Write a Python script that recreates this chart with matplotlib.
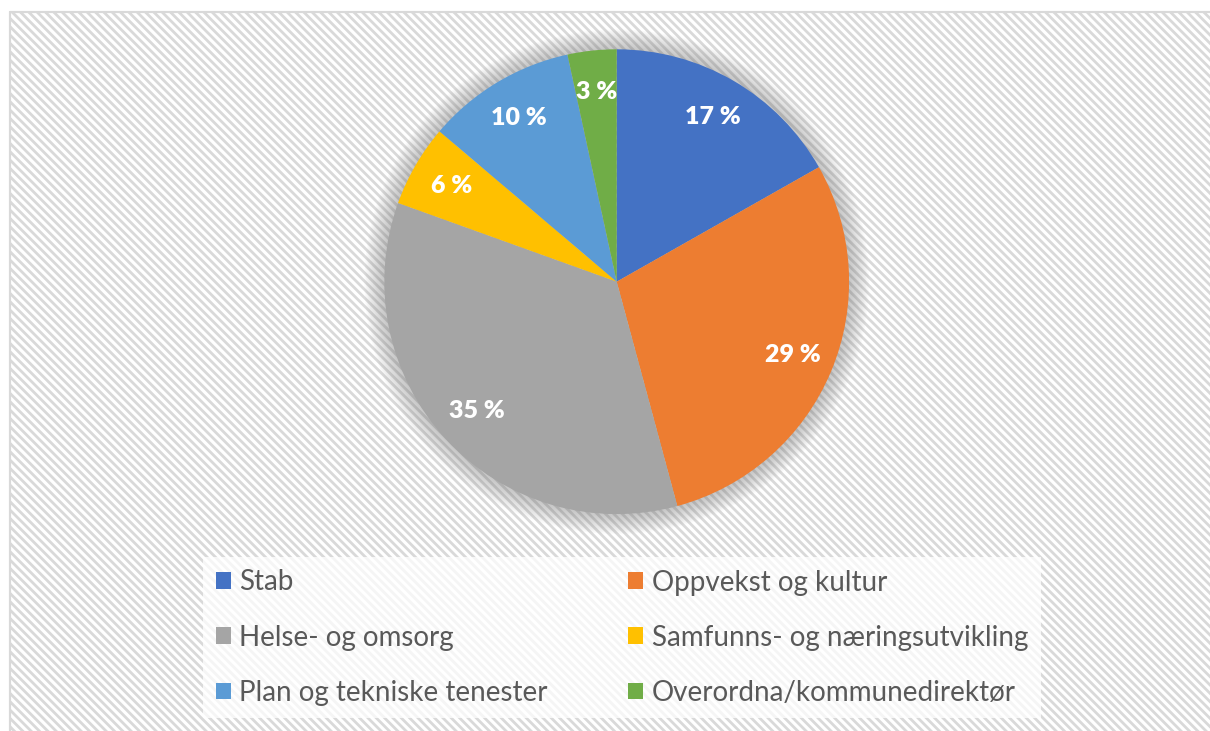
import matplotlib
matplotlib.use("Agg")
import matplotlib.pyplot as plt
from matplotlib.patches import Rectangle, Circle

labels = ["Stab", "Oppvekst og kultur", "Helse- og omsorg",
          "Samfunns- og næringsutvikling", "Plan og tekniske tenester",
          "Overordna/kommunedirektør"]
values = [16.8, 29.0, 34.7, 5.7, 10.4, 3.4]
colors = ["#4472C4", "#ED7D31", "#A5A5A5", "#FFC000", "#5B9BD5", "#70AD47"]

plt.rcParams['font.family'] = ['Lato', 'DejaVu Sans']
plt.rcParams['hatch.linewidth'] = 2.0
plt.rcParams['hatch.color'] = '#f4f4f4'

W, H = 1210, 731
fig = plt.figure(figsize=(W / 100, H / 100), dpi=100)
fig.patch.set_facecolor('white')

# background plot area with diagonal hatch
bg = fig.add_axes([0, 0, 1, 1])
bg.set_xlim(0, W)
bg.set_ylim(H, 0)
bg.axis('off')
bg.add_patch(Rectangle((10, 12), W + 20, H + 20, facecolor='white',
                       edgecolor='#d9d9d9', hatch='\\\\\\\\', lw=1.5, zorder=0))
bg.add_patch(Rectangle((10, 12), W + 20, H + 20, facecolor='none',
                       edgecolor='#d9d9d9', lw=1.5, zorder=1))

# pie
cx, cy, r = 616.7, 281.7, 232.4
ext = 1.12
side = 2 * ext * r
ax = fig.add_axes([(cx - side / 2) / W, (H - cy - side / 2) / H, side / W, side / H])
ax.set_xlim(-ext, ext)
ax.set_ylim(-ext, ext)
ax.set_aspect('equal')
ax.axis('off')

# soft shadow
n = 14
for i in range(n):
    rr = 1.0 + 0.085 * (n - i) / n
    ax.add_patch(Circle((0, 0), rr, facecolor='#7f7f7f', edgecolor='none',
                        alpha=0.035, zorder=1))

wedges, texts, autotexts = ax.pie(
    values, colors=colors, startangle=90, counterclock=False, radius=1,
    autopct='%.0f %%', pctdistance=0.82,
    wedgeprops=dict(linewidth=0, zorder=2),
    textprops=dict(color='white', fontsize=18, fontweight='heavy'))
for w in wedges:
    w.set_zorder(2)
for t in autotexts:
    t.set_zorder(3)
ax.set_xlim(-ext, ext)
ax.set_ylim(-ext, ext)

# legend (row-major order)
order = [0, 2, 4, 1, 3, 5]
leg = fig.legend([wedges[i] for i in order], [labels[i] for i in order],
                 ncol=2, loc='upper left',
                 bbox_to_anchor=(203 / W, 1 - 557 / H),
                 frameon=True, fontsize=20, handlelength=0.55, handleheight=0.55,
                 handletextpad=0.3, columnspacing=2.9, labelspacing=1.05,
                 borderpad=0.45, borderaxespad=0, labelcolor='#595959',
                 fancybox=False)
leg.get_frame().set_facecolor('white')
leg.get_frame().set_alpha(0.75)
leg.get_frame().set_edgecolor('none')

fig.savefig('out.png', dpi=100, facecolor='white')
